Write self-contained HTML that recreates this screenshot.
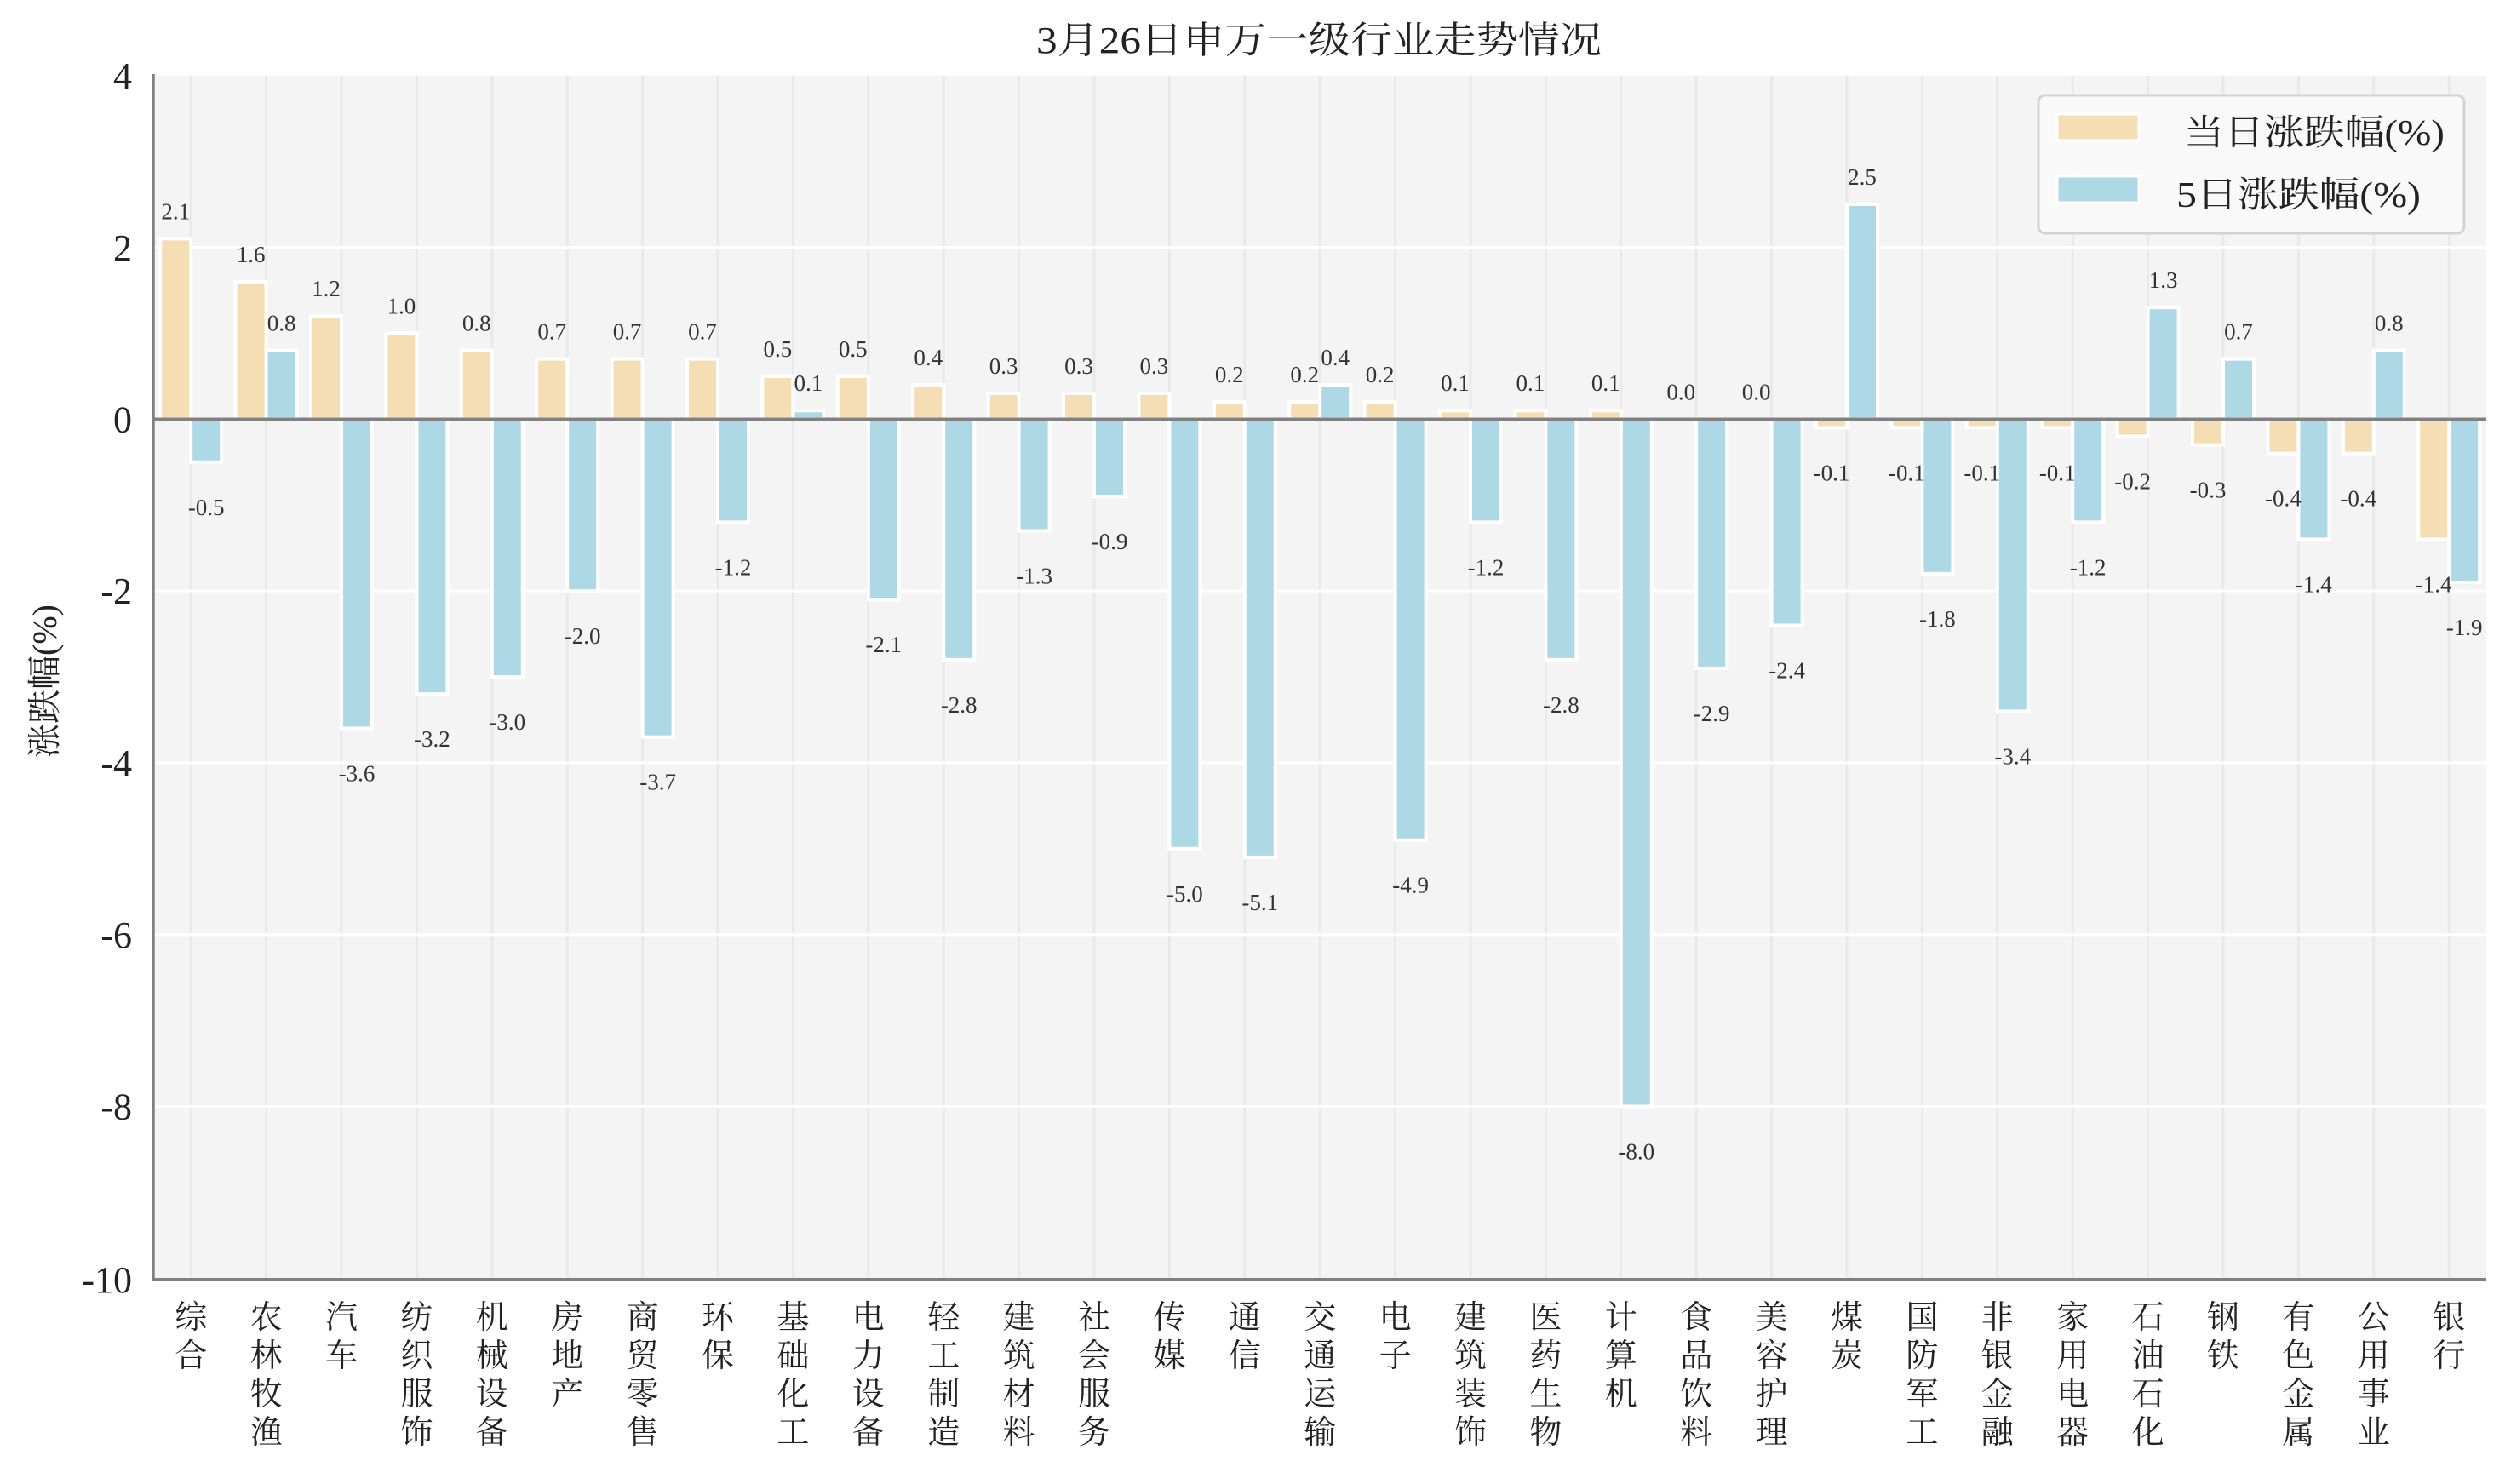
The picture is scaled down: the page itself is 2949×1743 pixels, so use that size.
<!DOCTYPE html>
<html><head><meta charset="utf-8"><style>
html,body{margin:0;padding:0;background:#fff;}
svg{display:block;}
.v{font-family:"Liberation Serif","Noto Serif CJK SC",serif;font-size:27px;fill:#333;text-anchor:middle;}
.t{font-family:"Liberation Serif","Noto Serif CJK SC",serif;font-size:44px;fill:#222;text-anchor:end;}
.c{font-family:"Liberation Serif","Noto Serif CJK SC",serif;font-size:38px;fill:#222;text-anchor:middle;}
</style></head><body>
<svg width="2949" height="1743" viewBox="0 0 2949 1743" xmlns="http://www.w3.org/2000/svg">
<rect x="0" y="0" width="2949" height="1743" fill="#fff"/>
<rect x="180" y="88.7" width="2740" height="1414" fill="#f4f4f4"/>
<g stroke="#e9e9e9" stroke-width="3">
<line x1="224.2" y1="88.7" x2="224.2" y2="1502.7"/><line x1="312.6" y1="88.7" x2="312.6" y2="1502.7"/><line x1="401" y1="88.7" x2="401" y2="1502.7"/><line x1="489.4" y1="88.7" x2="489.4" y2="1502.7"/><line x1="577.8" y1="88.7" x2="577.8" y2="1502.7"/><line x1="666.2" y1="88.7" x2="666.2" y2="1502.7"/><line x1="754.6" y1="88.7" x2="754.6" y2="1502.7"/><line x1="843" y1="88.7" x2="843" y2="1502.7"/><line x1="931.4" y1="88.7" x2="931.4" y2="1502.7"/><line x1="1019.8" y1="88.7" x2="1019.8" y2="1502.7"/><line x1="1108.2" y1="88.7" x2="1108.2" y2="1502.7"/><line x1="1196.6" y1="88.7" x2="1196.6" y2="1502.7"/><line x1="1285" y1="88.7" x2="1285" y2="1502.7"/><line x1="1373.4" y1="88.7" x2="1373.4" y2="1502.7"/><line x1="1461.8" y1="88.7" x2="1461.8" y2="1502.7"/><line x1="1550.2" y1="88.7" x2="1550.2" y2="1502.7"/><line x1="1638.6" y1="88.7" x2="1638.6" y2="1502.7"/><line x1="1727" y1="88.7" x2="1727" y2="1502.7"/><line x1="1815.4" y1="88.7" x2="1815.4" y2="1502.7"/><line x1="1903.8" y1="88.7" x2="1903.8" y2="1502.7"/><line x1="1992.2" y1="88.7" x2="1992.2" y2="1502.7"/><line x1="2080.6" y1="88.7" x2="2080.6" y2="1502.7"/><line x1="2169" y1="88.7" x2="2169" y2="1502.7"/><line x1="2257.4" y1="88.7" x2="2257.4" y2="1502.7"/><line x1="2345.8" y1="88.7" x2="2345.8" y2="1502.7"/><line x1="2434.2" y1="88.7" x2="2434.2" y2="1502.7"/><line x1="2522.6" y1="88.7" x2="2522.6" y2="1502.7"/><line x1="2611" y1="88.7" x2="2611" y2="1502.7"/><line x1="2699.4" y1="88.7" x2="2699.4" y2="1502.7"/><line x1="2787.8" y1="88.7" x2="2787.8" y2="1502.7"/><line x1="2876.2" y1="88.7" x2="2876.2" y2="1502.7"/>
</g>
<g stroke="#fff" stroke-width="3">
<line x1="180" y1="290.5" x2="2920" y2="290.5"/><line x1="180" y1="694.1" x2="2920" y2="694.1"/><line x1="180" y1="895.9" x2="2920" y2="895.9"/><line x1="180" y1="1097.7" x2="2920" y2="1097.7"/><line x1="180" y1="1299.5" x2="2920" y2="1299.5"/>
</g>
<g transform="translate(0 492.3) scale(1 -100.9)" stroke="#fff" stroke-width="4" vector-effect="non-scaling-stroke">
<g fill="#f5deb3">
<rect x="188.2" y="0" width="36" height="2.1" vector-effect="non-scaling-stroke"/>
<rect x="276.6" y="0" width="36" height="1.6" vector-effect="non-scaling-stroke"/>
<rect x="365" y="0" width="36" height="1.2" vector-effect="non-scaling-stroke"/>
<rect x="453.4" y="0" width="36" height="1.0" vector-effect="non-scaling-stroke"/>
<rect x="541.8" y="0" width="36" height="0.8" vector-effect="non-scaling-stroke"/>
<rect x="630.2" y="0" width="36" height="0.7" vector-effect="non-scaling-stroke"/>
<rect x="718.6" y="0" width="36" height="0.7" vector-effect="non-scaling-stroke"/>
<rect x="807" y="0" width="36" height="0.7" vector-effect="non-scaling-stroke"/>
<rect x="895.4" y="0" width="36" height="0.5" vector-effect="non-scaling-stroke"/>
<rect x="983.8" y="0" width="36" height="0.5" vector-effect="non-scaling-stroke"/>
<rect x="1072.2" y="0" width="36" height="0.4" vector-effect="non-scaling-stroke"/>
<rect x="1160.6" y="0" width="36" height="0.3" vector-effect="non-scaling-stroke"/>
<rect x="1249" y="0" width="36" height="0.3" vector-effect="non-scaling-stroke"/>
<rect x="1337.4" y="0" width="36" height="0.3" vector-effect="non-scaling-stroke"/>
<rect x="1425.8" y="0" width="36" height="0.2" vector-effect="non-scaling-stroke"/>
<rect x="1514.2" y="0" width="36" height="0.2" vector-effect="non-scaling-stroke"/>
<rect x="1602.6" y="0" width="36" height="0.2" vector-effect="non-scaling-stroke"/>
<rect x="1691" y="0" width="36" height="0.1" vector-effect="non-scaling-stroke"/>
<rect x="1779.4" y="0" width="36" height="0.1" vector-effect="non-scaling-stroke"/>
<rect x="1867.8" y="0" width="36" height="0.1" vector-effect="non-scaling-stroke"/>
<rect x="2133" y="-0.1" width="36" height="0.1" vector-effect="non-scaling-stroke"/>
<rect x="2221.4" y="-0.1" width="36" height="0.1" vector-effect="non-scaling-stroke"/>
<rect x="2309.8" y="-0.1" width="36" height="0.1" vector-effect="non-scaling-stroke"/>
<rect x="2398.2" y="-0.1" width="36" height="0.1" vector-effect="non-scaling-stroke"/>
<rect x="2486.6" y="-0.2" width="36" height="0.2" vector-effect="non-scaling-stroke"/>
<rect x="2575" y="-0.3" width="36" height="0.3" vector-effect="non-scaling-stroke"/>
<rect x="2663.4" y="-0.4" width="36" height="0.4" vector-effect="non-scaling-stroke"/>
<rect x="2751.8" y="-0.4" width="36" height="0.4" vector-effect="non-scaling-stroke"/>
<rect x="2840.2" y="-1.4" width="36" height="1.4" vector-effect="non-scaling-stroke"/>
</g>
<g fill="#add8e6">
<rect x="224.2" y="-0.5" width="36" height="0.5" vector-effect="non-scaling-stroke"/>
<rect x="312.6" y="0" width="36" height="0.8" vector-effect="non-scaling-stroke"/>
<rect x="401" y="-3.6" width="36" height="3.6" vector-effect="non-scaling-stroke"/>
<rect x="489.4" y="-3.2" width="36" height="3.2" vector-effect="non-scaling-stroke"/>
<rect x="577.8" y="-3.0" width="36" height="3.0" vector-effect="non-scaling-stroke"/>
<rect x="666.2" y="-2.0" width="36" height="2.0" vector-effect="non-scaling-stroke"/>
<rect x="754.6" y="-3.7" width="36" height="3.7" vector-effect="non-scaling-stroke"/>
<rect x="843" y="-1.2" width="36" height="1.2" vector-effect="non-scaling-stroke"/>
<rect x="931.4" y="0" width="36" height="0.1" vector-effect="non-scaling-stroke"/>
<rect x="1019.8" y="-2.1" width="36" height="2.1" vector-effect="non-scaling-stroke"/>
<rect x="1108.2" y="-2.8" width="36" height="2.8" vector-effect="non-scaling-stroke"/>
<rect x="1196.6" y="-1.3" width="36" height="1.3" vector-effect="non-scaling-stroke"/>
<rect x="1285" y="-0.9" width="36" height="0.9" vector-effect="non-scaling-stroke"/>
<rect x="1373.4" y="-5.0" width="36" height="5.0" vector-effect="non-scaling-stroke"/>
<rect x="1461.8" y="-5.1" width="36" height="5.1" vector-effect="non-scaling-stroke"/>
<rect x="1550.2" y="0" width="36" height="0.4" vector-effect="non-scaling-stroke"/>
<rect x="1638.6" y="-4.9" width="36" height="4.9" vector-effect="non-scaling-stroke"/>
<rect x="1727" y="-1.2" width="36" height="1.2" vector-effect="non-scaling-stroke"/>
<rect x="1815.4" y="-2.8" width="36" height="2.8" vector-effect="non-scaling-stroke"/>
<rect x="1903.8" y="-8.0" width="36" height="8.0" vector-effect="non-scaling-stroke"/>
<rect x="1992.2" y="-2.9" width="36" height="2.9" vector-effect="non-scaling-stroke"/>
<rect x="2080.6" y="-2.4" width="36" height="2.4" vector-effect="non-scaling-stroke"/>
<rect x="2169" y="0" width="36" height="2.5" vector-effect="non-scaling-stroke"/>
<rect x="2257.4" y="-1.8" width="36" height="1.8" vector-effect="non-scaling-stroke"/>
<rect x="2345.8" y="-3.4" width="36" height="3.4" vector-effect="non-scaling-stroke"/>
<rect x="2434.2" y="-1.2" width="36" height="1.2" vector-effect="non-scaling-stroke"/>
<rect x="2522.6" y="0" width="36" height="1.3" vector-effect="non-scaling-stroke"/>
<rect x="2611" y="0" width="36" height="0.7" vector-effect="non-scaling-stroke"/>
<rect x="2699.4" y="-1.4" width="36" height="1.4" vector-effect="non-scaling-stroke"/>
<rect x="2787.8" y="0" width="36" height="0.8" vector-effect="non-scaling-stroke"/>
<rect x="2876.2" y="-1.9" width="36" height="1.9" vector-effect="non-scaling-stroke"/>
</g>
</g>
<line x1="180" y1="492.3" x2="2920" y2="492.3" stroke="#808080" stroke-width="3.5"/>
<line x1="180" y1="87" x2="180" y2="1502.7" stroke="#808080" stroke-width="3.5"/>
<line x1="178.3" y1="1502.7" x2="2920" y2="1502.7" stroke="#808080" stroke-width="3.5"/>
<g class="v">
<text x="206.2" y="257.4">2.1</text><text x="294.6" y="307.9">1.6</text><text x="383" y="348.2">1.2</text><text x="471.4" y="368.4">1.0</text><text x="559.8" y="388.6">0.8</text><text x="648.2" y="398.7">0.7</text><text x="736.6" y="398.7">0.7</text><text x="825" y="398.7">0.7</text><text x="913.4" y="418.9">0.5</text><text x="1001.8" y="418.9">0.5</text><text x="1090.2" y="429">0.4</text><text x="1178.6" y="439.1">0.3</text><text x="1267" y="439.1">0.3</text><text x="1355.4" y="439.1">0.3</text><text x="1443.8" y="449.1">0.2</text><text x="1532.2" y="449.1">0.2</text><text x="1620.6" y="449.1">0.2</text><text x="1709" y="459.2">0.1</text><text x="1797.4" y="459.2">0.1</text><text x="1885.8" y="459.2">0.1</text><text x="1974.2" y="469.3">0.0</text><text x="2062.6" y="469.3">0.0</text><text x="2151" y="564.4">-0.1</text><text x="2239.4" y="564.4">-0.1</text><text x="2327.8" y="564.4">-0.1</text><text x="2416.2" y="564.4">-0.1</text><text x="2504.6" y="574.5">-0.2</text><text x="2593" y="584.6">-0.3</text><text x="2681.4" y="594.7">-0.4</text><text x="2769.8" y="594.7">-0.4</text><text x="2858.2" y="695.6">-1.4</text>
<text x="242.2" y="604.8">-0.5</text><text x="330.6" y="388.6">0.8</text><text x="419" y="917.5">-3.6</text><text x="507.4" y="877.2">-3.2</text><text x="595.8" y="857">-3.0</text><text x="684.2" y="756.1">-2.0</text><text x="772.6" y="927.6">-3.7</text><text x="861" y="675.4">-1.2</text><text x="949.4" y="459.2">0.1</text><text x="1037.8" y="766.2">-2.1</text><text x="1126.2" y="836.8">-2.8</text><text x="1214.6" y="685.5">-1.3</text><text x="1303" y="645.1">-0.9</text><text x="1391.4" y="1058.8">-5.0</text><text x="1479.8" y="1068.9">-5.1</text><text x="1568.2" y="429">0.4</text><text x="1656.6" y="1048.7">-4.9</text><text x="1745" y="675.4">-1.2</text><text x="1833.4" y="836.8">-2.8</text><text x="1921.8" y="1361.5">-8.0</text><text x="2010.2" y="846.9">-2.9</text><text x="2098.6" y="796.5">-2.4</text><text x="2187" y="217">2.5</text><text x="2275.4" y="735.9">-1.8</text><text x="2363.8" y="897.4">-3.4</text><text x="2452.2" y="675.4">-1.2</text><text x="2540.6" y="338.1">1.3</text><text x="2629" y="398.7">0.7</text><text x="2717.4" y="695.6">-1.4</text><text x="2805.8" y="388.6">0.8</text><text x="2894.2" y="746">-1.9</text>
</g>
<g class="t">
<text x="155" y="104">4</text><text x="155" y="306">2</text><text x="155" y="507.5">0</text><text x="155" y="709">-2</text><text x="155" y="911">-4</text><text x="155" y="1113">-6</text><text x="155" y="1314.5">-8</text><text x="155" y="1518">-10</text>
</g>
<g class="c">
<text x="224.2" y="1560">综<tspan x="224.2" dy="45">合</tspan></text>
<text x="312.6" y="1560">农<tspan x="312.6" dy="45">林</tspan><tspan x="312.6" dy="45">牧</tspan><tspan x="312.6" dy="45">渔</tspan></text>
<text x="401" y="1560">汽<tspan x="401" dy="45">车</tspan></text>
<text x="489.4" y="1560">纺<tspan x="489.4" dy="45">织</tspan><tspan x="489.4" dy="45">服</tspan><tspan x="489.4" dy="45">饰</tspan></text>
<text x="577.8" y="1560">机<tspan x="577.8" dy="45">械</tspan><tspan x="577.8" dy="45">设</tspan><tspan x="577.8" dy="45">备</tspan></text>
<text x="666.2" y="1560">房<tspan x="666.2" dy="45">地</tspan><tspan x="666.2" dy="45">产</tspan></text>
<text x="754.6" y="1560">商<tspan x="754.6" dy="45">贸</tspan><tspan x="754.6" dy="45">零</tspan><tspan x="754.6" dy="45">售</tspan></text>
<text x="843" y="1560">环<tspan x="843" dy="45">保</tspan></text>
<text x="931.4" y="1560">基<tspan x="931.4" dy="45">础</tspan><tspan x="931.4" dy="45">化</tspan><tspan x="931.4" dy="45">工</tspan></text>
<text x="1019.8" y="1560">电<tspan x="1019.8" dy="45">力</tspan><tspan x="1019.8" dy="45">设</tspan><tspan x="1019.8" dy="45">备</tspan></text>
<text x="1108.2" y="1560">轻<tspan x="1108.2" dy="45">工</tspan><tspan x="1108.2" dy="45">制</tspan><tspan x="1108.2" dy="45">造</tspan></text>
<text x="1196.6" y="1560">建<tspan x="1196.6" dy="45">筑</tspan><tspan x="1196.6" dy="45">材</tspan><tspan x="1196.6" dy="45">料</tspan></text>
<text x="1285" y="1560">社<tspan x="1285" dy="45">会</tspan><tspan x="1285" dy="45">服</tspan><tspan x="1285" dy="45">务</tspan></text>
<text x="1373.4" y="1560">传<tspan x="1373.4" dy="45">媒</tspan></text>
<text x="1461.8" y="1560">通<tspan x="1461.8" dy="45">信</tspan></text>
<text x="1550.2" y="1560">交<tspan x="1550.2" dy="45">通</tspan><tspan x="1550.2" dy="45">运</tspan><tspan x="1550.2" dy="45">输</tspan></text>
<text x="1638.6" y="1560">电<tspan x="1638.6" dy="45">子</tspan></text>
<text x="1727" y="1560">建<tspan x="1727" dy="45">筑</tspan><tspan x="1727" dy="45">装</tspan><tspan x="1727" dy="45">饰</tspan></text>
<text x="1815.4" y="1560">医<tspan x="1815.4" dy="45">药</tspan><tspan x="1815.4" dy="45">生</tspan><tspan x="1815.4" dy="45">物</tspan></text>
<text x="1903.8" y="1560">计<tspan x="1903.8" dy="45">算</tspan><tspan x="1903.8" dy="45">机</tspan></text>
<text x="1992.2" y="1560">食<tspan x="1992.2" dy="45">品</tspan><tspan x="1992.2" dy="45">饮</tspan><tspan x="1992.2" dy="45">料</tspan></text>
<text x="2080.6" y="1560">美<tspan x="2080.6" dy="45">容</tspan><tspan x="2080.6" dy="45">护</tspan><tspan x="2080.6" dy="45">理</tspan></text>
<text x="2169" y="1560">煤<tspan x="2169" dy="45">炭</tspan></text>
<text x="2257.4" y="1560">国<tspan x="2257.4" dy="45">防</tspan><tspan x="2257.4" dy="45">军</tspan><tspan x="2257.4" dy="45">工</tspan></text>
<text x="2345.8" y="1560">非<tspan x="2345.8" dy="45">银</tspan><tspan x="2345.8" dy="45">金</tspan><tspan x="2345.8" dy="45">融</tspan></text>
<text x="2434.2" y="1560">家<tspan x="2434.2" dy="45">用</tspan><tspan x="2434.2" dy="45">电</tspan><tspan x="2434.2" dy="45">器</tspan></text>
<text x="2522.6" y="1560">石<tspan x="2522.6" dy="45">油</tspan><tspan x="2522.6" dy="45">石</tspan><tspan x="2522.6" dy="45">化</tspan></text>
<text x="2611" y="1560">钢<tspan x="2611" dy="45">铁</tspan></text>
<text x="2699.4" y="1560">有<tspan x="2699.4" dy="45">色</tspan><tspan x="2699.4" dy="45">金</tspan><tspan x="2699.4" dy="45">属</tspan></text>
<text x="2787.8" y="1560">公<tspan x="2787.8" dy="45">用</tspan><tspan x="2787.8" dy="45">事</tspan><tspan x="2787.8" dy="45">业</tspan></text>
<text x="2876.2" y="1560">银<tspan x="2876.2" dy="45">行</tspan></text>
</g>
<text x="1549" y="62" text-anchor="middle" font-family="'Liberation Serif','Noto Serif CJK SC',serif" font-size="44" fill="#222" textLength="664" lengthAdjust="spacingAndGlyphs">3月26日申万一级行业走势情况</text>
<text transform="translate(66 800) rotate(-90)" text-anchor="middle" font-family="'Liberation Serif','Noto Serif CJK SC',serif" font-size="40" fill="#222">涨跌幅(%)</text>
<rect x="2394" y="112" width="500" height="162" rx="8" ry="8" fill="#fafafa" fill-opacity="0.9" stroke="#d3d3d3" stroke-width="3"/>
<rect x="2416" y="134" width="96" height="31" fill="#f5deb3" stroke="#fff" stroke-width="3"/>
<rect x="2416" y="207" width="96" height="31" fill="#add8e6" stroke="#fff" stroke-width="3"/>
<text x="2565" y="170" font-family="'Liberation Serif','Noto Serif CJK SC',serif" font-size="42" fill="#222" textLength="306" lengthAdjust="spacingAndGlyphs">当日涨跌幅(%)</text>
<text x="2556" y="243" font-family="'Liberation Serif','Noto Serif CJK SC',serif" font-size="42" fill="#222" textLength="287" lengthAdjust="spacingAndGlyphs">5日涨跌幅(%)</text>
</svg>
</body></html>
